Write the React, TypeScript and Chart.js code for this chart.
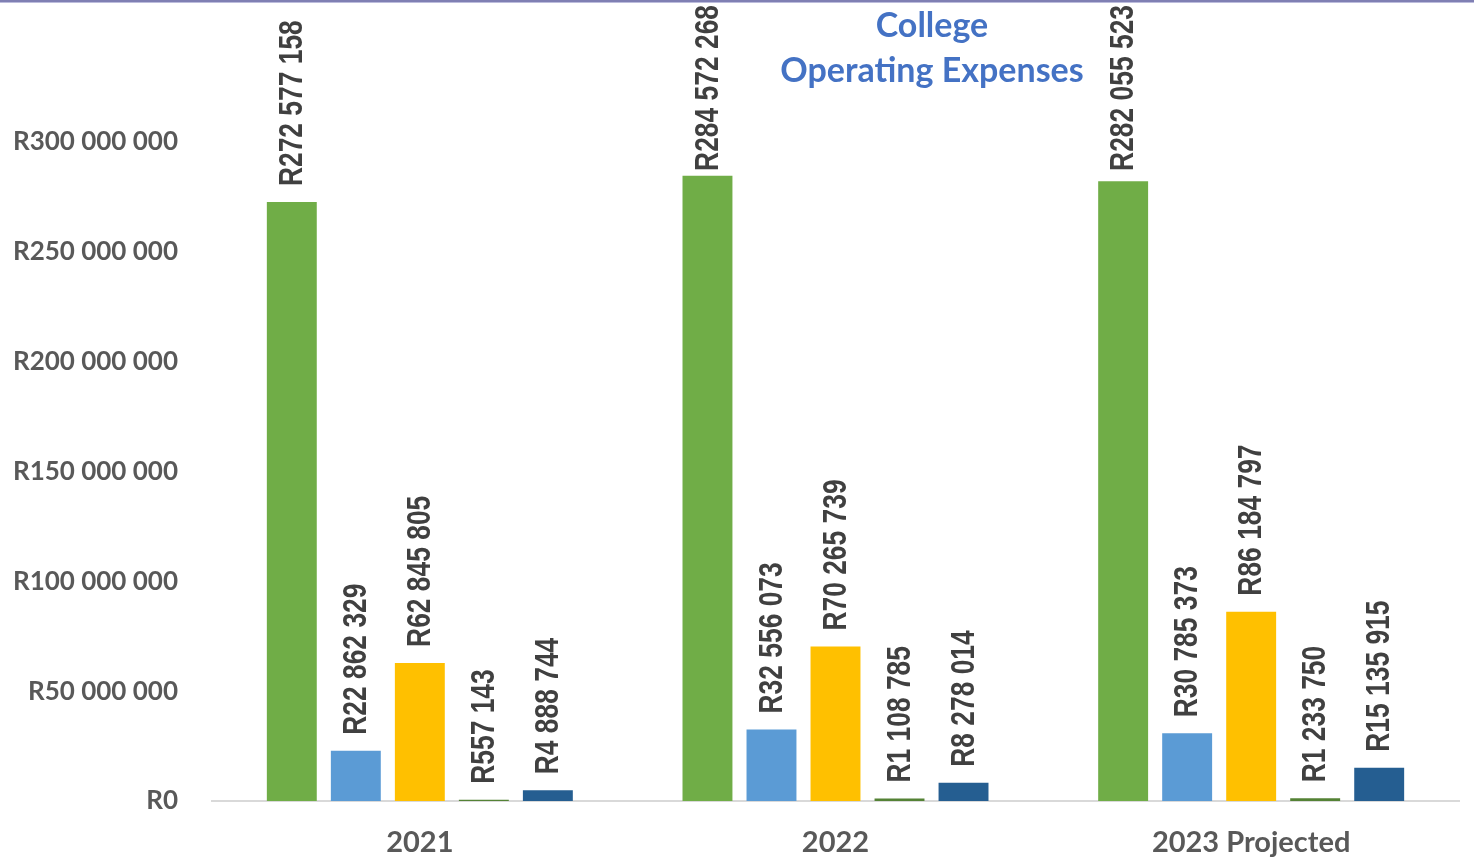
import React, { useEffect, useRef } from "react";
import { Chart, registerables } from "chart.js";

Chart.register(...registerables);

const categories = ["2021", "2022", "2023 Projected"];
const seriesA = [272577158, 284572268, 282055523];
const seriesB = [22862329, 32556073, 30785373];
const seriesC = [62845805, 70265739, 86184797];
const seriesD = [557143, 1108785, 1233750];
const seriesE = [4888744, 8278014, 15135915];
const seriesNames = ["Expense 1", "Expense 2", "Expense 3", "Expense 4", "Expense 5"];
const seriesColors = ["#70AD47", "#5B9BD5", "#FFC000", "#548235", "#255E91"];
const titleLines = ["College", "Operating Expenses"];
const yMax = 350000000;
const yStep = 50000000;
const yLabelMax = 300000000;

function fmtRand(v: number): string {
  const s = Math.round(v).toString();
  return "R" + s.replace(/\B(?=(\d{3})+(?!\d))/g, " ");
}

const LABEL_SCALE = 0.8;

const decorPlugin = {
  id: "decor",
  beforeDraw(chart: any) {
    const ctx = chart.ctx;
    ctx.save();
    ctx.fillStyle = "#ffffff";
    ctx.fillRect(0, 0, chart.width, chart.height);
    ctx.fillStyle = "#7f7fb3";
    ctx.fillRect(0, 0, chart.width, 2);
    ctx.fillStyle = "#bcbcdc";
    ctx.fillRect(0, 2, chart.width, 1);
    ctx.restore();
  },
  afterDatasetsDraw(chart: any) {
    const ctx = chart.ctx;
    ctx.save();
    ctx.fillStyle = "#404040";
    ctx.font = "bold 33px 'Liberation Sans', Arial, sans-serif";
    ctx.textAlign = "left";
    ctx.textBaseline = "middle";
    chart.data.datasets.forEach((ds: any, di: number) => {
      const meta = chart.getDatasetMeta(di);
      meta.data.forEach((bar: any, i: number) => {
        const text = fmtRand(ds.data[i]);
        const len = ctx.measureText(text).width * LABEL_SCALE;
        const startY = Math.max(bar.y - 16, 5 + len);
        ctx.save();
        ctx.translate(bar.x, startY);
        ctx.rotate(-Math.PI / 2);
        ctx.scale(LABEL_SCALE, 1);
        ctx.fillText(text, 0, 1);
        ctx.restore();
      });
    });
    // title
    ctx.fillStyle = "#4472C4";
    ctx.font = "bold 34px Lato, 'Open Sans', sans-serif";
    ctx.textAlign = "center";
    ctx.textBaseline = "middle";
    ctx.fillText(titleLines[0], 932, 26);
    ctx.fillText(titleLines[1], 932, 71);
    ctx.restore();
  },
};

export default function App() {
  const ref = useRef<HTMLCanvasElement | null>(null);
  useEffect(() => {
    document.body.style.margin = "0";
    if (!ref.current) return;
    const values = [seriesA, seriesB, seriesC, seriesD, seriesE];
    const chart = new Chart(ref.current, {
      type: "bar",
      data: {
        labels: categories,
        datasets: values.map((d, i) => ({
          label: seriesNames[i],
          data: d,
          backgroundColor: seriesColors[i],
          borderWidth: 0,
          categoryPercentage: 0.77,
          barPercentage: 0.78,
        })),
      },
      options: {
        responsive: false,
        animation: false,
        layout: { padding: { top: 32, right: 15, left: 0, bottom: 0 } },
        plugins: {
          legend: { display: false },
          tooltip: { enabled: false },
          title: { display: false },
        },
        scales: {
          x: {
            grid: { display: false, drawTicks: false },
            border: { display: true, color: "#D9D9D9", width: 2 },
            ticks: {
              color: "#595959",
              font: { family: "Lato, 'Open Sans', sans-serif", size: 29, weight: "bold" },
              padding: 24,
            },
            afterFit(scale: any) {
              scale.height = 58;
              scale.paddingLeft = 0;
              scale.paddingRight = 0;
            },
          },
          y: {
            min: 0,
            max: yMax,
            grid: { display: false, drawTicks: false },
            border: { display: false },
            ticks: {
              stepSize: yStep,
              color: "#595959",
              font: { family: "Lato, 'Open Sans', sans-serif", size: 26, weight: "bold" },
              padding: 34,
              callback: (v: any) => (Number(v) > yLabelMax ? "" : fmtRand(Number(v))),
            },
            afterFit(scale: any) {
              scale.width = 212;
              scale.paddingTop = 0;
              scale.paddingBottom = 0;
            },
          },
        },
      },
      plugins: [decorPlugin],
    });
    return () => chart.destroy();
  }, []);
  return (
    <div style={{ width: 1474, height: 859 }}>
      <canvas ref={ref} width={1474} height={859} style={{ display: "block" }} />
    </div>
  );
}
